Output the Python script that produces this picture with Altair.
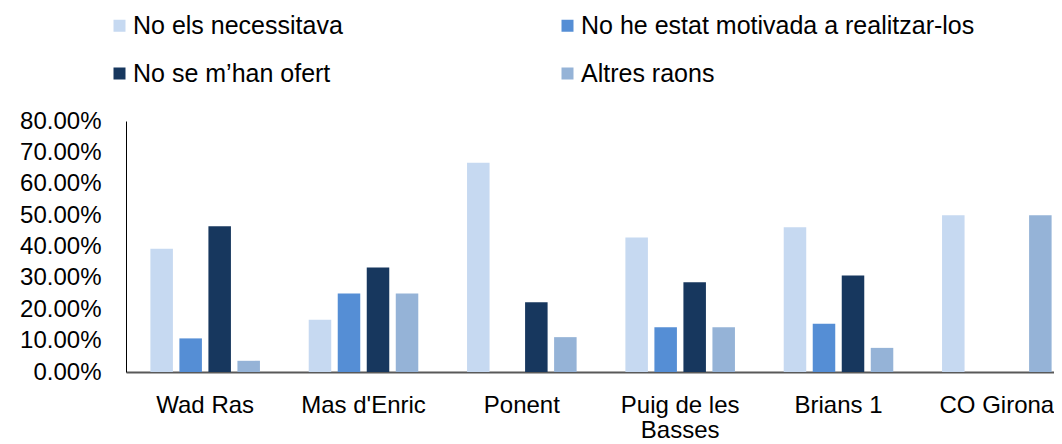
import altair as alt
import pandas as pd

centres = ["Wad Ras", "Mas d'Enric", "Ponent", "Puig de les Basses", "Brians 1", "CO Girona"]
series = ["No els necessitava", "No he estat motivada a realitzar-los",
          "No se m\u2019han ofert", "Altres raons"]
no_necessitava = [0.3929, 0.1667, 0.6667, 0.4286, 0.4615, 0.50]
no_motivada = [0.1071, 0.2500, 0.0, 0.1429, 0.1538, 0.0]
no_ofert = [0.4643, 0.3333, 0.2222, 0.2857, 0.3077, 0.0]
altres = [0.0357, 0.2500, 0.1111, 0.1429, 0.0769, 0.50]
colors = ["#C6D9F1", "#558ED5", "#17375E", "#95B3D7"]
y_ticks = [0.0, 0.1, 0.2, 0.3, 0.4, 0.5, 0.6, 0.7, 0.8]

# legend is laid out column by column: order the entries so rows read as in the original
legend_order = [series[0], series[2], series[1], series[3]]
legend_colors = [colors[0], colors[2], colors[1], colors[3]]

rows = []
for s, vals in zip(series, [no_necessitava, no_motivada, no_ofert, altres]):
    for c, v in zip(centres, vals):
        rows.append({"centre": c, "motiu": s, "valor": v})
df = pd.DataFrame(rows)

FONT = "Liberation Sans"

chart = alt.Chart(df).mark_bar().encode(
    x=alt.X("centre:N", sort=centres,
            scale=alt.Scale(range=[0, 950], paddingInner=0.267, paddingOuter=0.1335),
            axis=alt.Axis(title=None, labelAngle=0, ticks=False, tickSize=0,
                          labelFont=FONT, labelFontSize=24, labelColor="#000000",
                          labelPadding=21, labelLineHeight=25, labelLimit=0,
                          domainColor="#595959", domainWidth=2,
                          labelExpr="datum.label == 'Puig de les Basses' ? ['Puig de les', 'Basses'] : datum.label")),
    xOffset=alt.XOffset("motiu:N", sort=series,
                        scale=alt.Scale(paddingInner=0.224, paddingOuter=0.112)),
    y=alt.Y("valor:Q", scale=alt.Scale(domain=[0, 0.8], nice=False),
            axis=alt.Axis(title=None, values=y_ticks, format=".2%", grid=False,
                          ticks=False, tickSize=0, labelPadding=25,
                          labelFont=FONT, labelFontSize=24, labelColor="#000000",
                          domainColor="#000000", domainWidth=1)),
    color=alt.Color("motiu:N",
                    scale=alt.Scale(domain=legend_order, range=legend_colors),
                    legend=alt.Legend(title=None, orient="none", legendX=-19, legendY=-108,
                                      columns=2, columnPadding=212, rowPadding=22,
                                      symbolType="square", symbolSize=144,
                                      symbolStrokeWidth=0, labelOffset=1,
                                      labelFont=FONT, labelFontSize=25,
                                      labelColor="#000000", labelLimit=0, padding=0)),
).properties(
    width=928, height=251,
    autosize=alt.AutoSizeParams(type="none"),
    padding={"left": 118, "top": 113, "right": 0, "bottom": 76},
).configure_view(stroke=None)

chart.save("out.html", embed_options={"renderer": "svg", "actions": False})
